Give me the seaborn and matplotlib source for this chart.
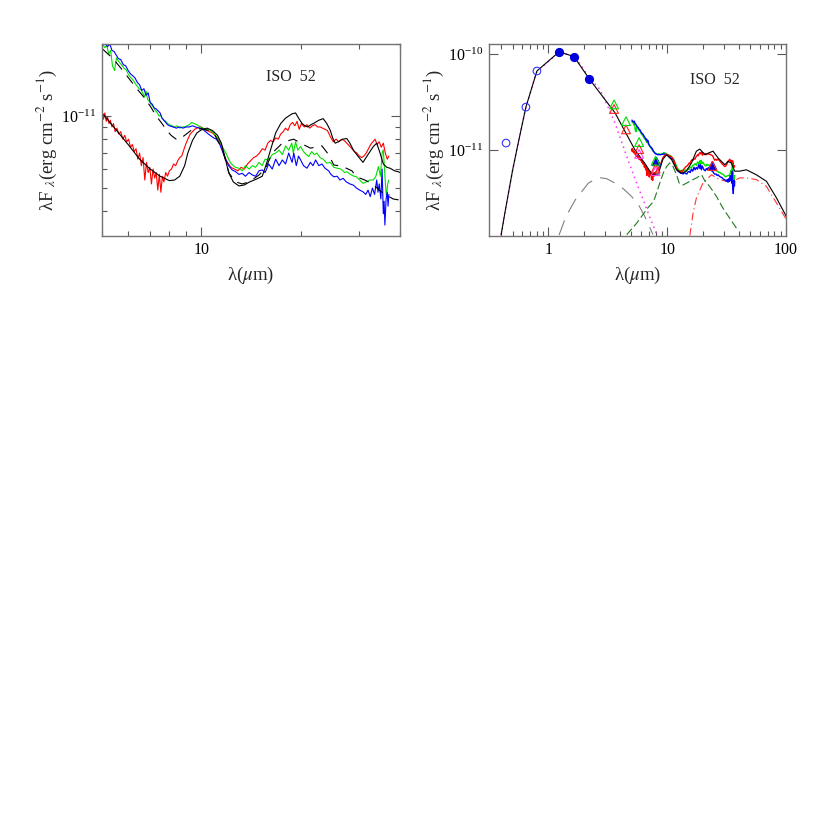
import numpy as np
import pandas as pd
import matplotlib
matplotlib.use("Agg")
import matplotlib.pyplot as plt
import matplotlib.ticker as mticker
import seaborn as sns

UNIT = 1e-11  # fluxes below are in units of 1e-11 erg cm^-2 s^-1

# ---------------- observed IRS-like spectra (shared by both panels) ----------
red_wl = [5.00, 5.05, 5.10, 5.15, 5.20, 5.25, 5.30, 5.36, 5.42, 5.48, 5.55, 5.62, 5.70, 5.78,
          5.86, 5.94, 6.02, 6.10, 6.18, 6.26, 6.34, 6.42, 6.50, 6.58, 6.66, 6.74, 6.82, 6.90,
          6.98, 7.06, 7.14, 7.22, 7.30, 7.38, 7.46, 7.54, 7.62, 7.70, 7.80, 7.90, 8.00, 8.12,
          8.24, 8.36, 8.48, 8.60, 8.72, 8.84, 8.96, 9.10, 9.25, 9.40, 9.55, 9.70, 9.86, 10.0,
          10.2, 10.4, 10.6, 10.8, 11.0, 11.2, 11.4, 11.6, 11.8, 12.0, 12.3, 12.6, 12.9, 13.2,
          13.5, 13.8, 14.1, 14.4, 14.7, 15.0, 15.3, 15.6, 15.9, 16.2, 16.5, 16.8, 17.1, 17.4,
          17.7, 18.0, 18.3, 18.6, 18.9, 19.2, 19.5, 19.8, 20.1, 20.5, 20.9, 21.3, 21.7, 22.1,
          22.5, 22.9, 23.3, 23.7, 24.1, 24.6, 25.1, 25.6, 26.1, 26.6, 27.1, 27.6, 28.1, 28.6,
          29.1, 29.6, 30.1, 30.6, 31.1, 31.6, 32.1, 32.6, 33.1, 33.6, 34.1, 34.6, 35.1, 35.6,
          36.1, 36.6, 37.0]
red_flux = [1.02, 0.97, 1.03, 0.95, 0.99, 0.93, 0.96, 0.90, 0.93, 0.86, 0.89, 0.84, 0.86, 0.80,
            0.83, 0.78, 0.80, 0.74, 0.76, 0.71, 0.73, 0.66, 0.70, 0.62, 0.67, 0.54, 0.64, 0.58,
            0.61, 0.52, 0.60, 0.55, 0.58, 0.49, 0.57, 0.48, 0.56, 0.53, 0.58, 0.56, 0.59, 0.60,
            0.63, 0.62, 0.65, 0.67, 0.68, 0.72, 0.76, 0.80, 0.84, 0.86, 0.88, 0.89, 0.90, 0.90,
            0.88, 0.87, 0.86, 0.85, 0.83, 0.81, 0.77, 0.72, 0.67, 0.64, 0.61, 0.60, 0.59, 0.61,
            0.60, 0.63, 0.65, 0.67, 0.68, 0.70, 0.73, 0.72, 0.77, 0.79, 0.78, 0.81, 0.80, 0.84,
            0.86, 0.89, 0.87, 0.92, 0.94, 0.91, 0.95, 0.88, 0.93, 0.90, 0.92, 0.89, 0.91, 0.92,
            0.90, 0.90, 0.89, 0.88, 0.87, 0.82, 0.78, 0.80, 0.78, 0.80, 0.79, 0.77, 0.75, 0.73,
            0.71, 0.70, 0.68, 0.67, 0.68, 0.70, 0.73, 0.76, 0.78, 0.80, 0.76, 0.78, 0.74, 0.77,
            0.70, 0.66, 0.68]

green_wl = [5.03, 5.10, 5.17, 5.24, 5.31, 5.38, 5.46, 5.53, 5.60, 5.68, 5.76, 5.84, 5.92, 6.00,
            6.08, 6.16, 6.24, 6.32, 6.40, 6.48, 6.56, 6.64, 6.72, 6.80, 6.88, 6.96, 7.04, 7.12,
            7.20, 7.28, 7.36, 7.44, 7.52, 7.60, 7.70, 7.80, 7.90, 8.00, 8.15, 8.30, 8.45, 8.60,
            8.75, 8.90, 9.05, 9.20, 9.35, 9.50, 9.70, 9.90, 10.1, 10.3, 10.6, 10.9, 11.1, 11.33,
            11.6, 11.87, 12.1, 12.28, 12.5, 12.7, 13.0, 13.3, 13.6, 13.95, 14.3, 14.6, 14.96, 15.3,
            15.6, 16.03, 16.4, 16.8, 17.2, 17.6, 18.0, 18.4, 18.8, 19.0, 19.3, 19.6, 20.0, 20.4,
            20.8, 21.15, 21.6, 22.0, 22.4, 22.9, 23.4, 24.0, 24.6, 25.2, 25.8, 26.5, 27.2, 27.6,
            28.3, 29.0, 29.5, 30.2, 30.9, 31.6, 32.4, 33.2, 33.8, 34.4, 34.9, 35.3, 35.6, 35.9,
            36.2, 36.4, 36.7, 37.0]
green_flux = [1.99, 1.93, 1.97, 1.82, 1.88, 1.62, 1.55, 1.75, 1.70, 1.66, 1.62, 1.58, 1.56, 1.50,
              1.46, 1.43, 1.40, 1.36, 1.33, 1.30, 1.29, 1.25, 1.20, 1.27, 1.17, 1.15, 1.12, 1.10,
              1.07, 1.05, 1.03, 1.00, 1.01, 0.98, 0.96, 0.95, 0.93, 0.92, 0.91, 0.90, 0.91, 0.89,
              0.90, 0.90, 0.91, 0.92, 0.94, 0.93, 0.92, 0.90, 0.89, 0.88, 0.875, 0.85, 0.82, 0.795,
              0.74, 0.70, 0.66, 0.635, 0.62, 0.61, 0.605, 0.59, 0.62, 0.60, 0.62, 0.61, 0.64, 0.62,
              0.66, 0.655, 0.69, 0.70, 0.72, 0.69, 0.75, 0.72, 0.77, 0.70, 0.78, 0.72, 0.745, 0.71,
              0.69, 0.677, 0.71, 0.69, 0.70, 0.67, 0.66, 0.635, 0.64, 0.61, 0.605, 0.60, 0.58, 0.585,
              0.57, 0.56, 0.557, 0.54, 0.523, 0.53, 0.54, 0.54, 0.56, 0.614, 0.56, 0.70, 0.722, 0.60,
              0.50, 0.46, 0.52, 0.54]

blue_wl = [5.05, 5.12, 5.20, 5.28, 5.36, 5.44, 5.52, 5.60, 5.70, 5.80, 5.90, 6.00, 6.10, 6.21,
           6.30, 6.40, 6.50, 6.60, 6.70, 6.80, 6.90, 7.00, 7.10, 7.20, 7.30, 7.40, 7.50, 7.60,
           7.70, 7.80, 7.90, 8.00, 8.20, 8.40, 8.60, 8.80, 9.00, 9.20, 9.40, 9.60, 9.86, 10.1,
           10.3, 10.57, 10.9, 11.1, 11.33, 11.6, 11.87, 12.1, 12.4, 12.7, 13.0, 13.3, 13.6, 13.95,
           14.28, 14.6, 14.96, 15.3, 15.6, 16.0, 16.4, 16.8, 17.2, 17.6, 18.0, 18.4, 18.84, 19.06,
           19.4, 19.7, 20.0, 20.4, 20.9, 21.4, 21.8, 22.2, 22.7, 23.2, 23.7, 24.3, 24.7, 25.2,
           25.8, 26.3, 26.9, 27.5, 28.2, 28.9, 29.5, 30.2, 30.9, 31.5, 32.0, 32.5, 33.0, 33.5,
           34.0, 34.3, 34.6, 35.0, 35.3, 35.6, 35.8, 36.0, 36.3, 36.6, 36.8, 37.0]
blue_flux = [2.05, 2.00, 1.95, 2.00, 1.88, 1.86, 1.80, 1.74, 1.72, 1.64, 1.62, 1.55, 1.50, 1.47,
             1.44, 1.38, 1.35, 1.28, 1.30, 1.22, 1.25, 1.14, 1.12, 1.08, 1.07, 1.05, 1.03, 0.98,
             0.96, 0.94, 0.92, 0.91, 0.90, 0.89, 0.90, 0.89, 0.90, 0.90, 0.91, 0.90, 0.89, 0.88,
             0.86, 0.835, 0.81, 0.80, 0.77, 0.71, 0.655, 0.62, 0.595, 0.585, 0.57, 0.576, 0.56, 0.58,
             0.567, 0.56, 0.59, 0.595, 0.58, 0.63, 0.60, 0.66, 0.62, 0.655, 0.63, 0.70, 0.64, 0.70,
             0.62, 0.68, 0.655, 0.62, 0.605, 0.64, 0.62, 0.655, 0.62, 0.63, 0.605, 0.59, 0.57, 0.557,
             0.56, 0.54, 0.549, 0.53, 0.52, 0.514, 0.50, 0.49, 0.482, 0.47, 0.49, 0.46, 0.50, 0.47,
             0.54, 0.48, 0.52, 0.45, 0.60, 0.39, 0.44, 0.35, 0.45, 0.48, 0.42, 0.47]

# ---------------- left panel models ----------------
model_solid_wl = [5.0, 5.5, 6.0, 6.5, 7.0, 7.5, 8.0, 8.3, 8.6, 8.9, 9.1, 9.4, 9.7, 10.0, 10.4,
                  10.8, 11.2, 11.5, 11.8, 12.1, 12.5, 13.0, 13.5, 14.0, 14.7, 15.3, 15.8, 16.2,
                  16.8, 17.4, 18.0, 18.8, 19.3, 19.8, 20.2, 20.6, 21.0, 21.5, 22.0, 22.7, 23.4,
                  24.0, 24.6, 25.0, 25.45, 26.0, 26.8, 27.6, 28.2, 28.9, 29.8, 30.9, 32.0, 33.2,
                  34.0, 34.8, 35.6, 36.5, 37.3, 38.5, 39.5, 40.0]
model_solid_flux = [1.03, 0.88, 0.76, 0.66, 0.60, 0.56, 0.537, 0.54, 0.56, 0.62, 0.70, 0.79, 0.85,
                    0.875, 0.89, 0.87, 0.83, 0.77, 0.67, 0.58, 0.53, 0.51, 0.515, 0.53, 0.545, 0.56,
                    0.64, 0.72, 0.85, 0.93, 0.98, 1.02, 1.03, 0.97, 0.93, 0.91, 0.90, 0.92, 0.935,
                    0.96, 0.975, 0.93, 0.87, 0.81, 0.77, 0.78, 0.80, 0.805, 0.77, 0.72, 0.68, 0.64,
                    0.69, 0.745, 0.77, 0.70, 0.63, 0.61, 0.605, 0.59, 0.585, 0.58]

model_dash_wl = [5.03, 5.3, 5.53, 5.8, 6.07, 6.35, 6.66, 7.0, 7.3, 7.6, 7.83, 8.1, 8.39, 8.6, 8.9,
                 9.3, 9.7, 10.0, 10.5, 11.0, 11.6, 12.14, 12.72, 13.3, 13.95, 14.96, 15.67, 16.4,
                 17.6, 18.4, 19.06, 20.0, 21.4, 23.2, 24.3, 25.2, 26.6, 28.6, 29.5, 31.3, 33.0,
                 35.1, 38.1, 40.0]
model_dash_flux = [1.90, 1.78, 1.67, 1.54, 1.42, 1.31, 1.21, 1.10, 1.00, 0.93, 0.876, 0.83, 0.80,
                   0.80, 0.83, 0.87, 0.88, 0.885, 0.87, 0.83, 0.72, 0.576, 0.53, 0.52, 0.53, 0.567,
                   0.605, 0.70, 0.77, 0.79, 0.80, 0.77, 0.734, 0.75, 0.69, 0.624, 0.618, 0.59,
                   0.557, 0.54, 0.52, 0.482, 0.45, 0.445]

# ---------------- right panel: photometry ----------------
open_circ_wl = [0.44, 0.646, 0.80]
open_circ_flux = [1.18, 2.80, 6.68]
fill_circ_wl = [1.23, 1.64, 2.20]
fill_circ_flux = [10.6, 9.46, 5.56]
tri_green_wl = [3.57, 4.50, 5.80, 7.98]
tri_green_flux = [2.99, 2.00, 1.21, 0.77]
tri_red_wl = [3.57, 4.50, 5.80, 7.98, 24.0]
tri_red_flux = [2.68, 1.64, 1.02, 0.64, 0.68]
tri_mag_wl = [5.80, 7.98]
tri_mag_flux = [0.91, 0.60]
tri_blue_wl = [7.98, 24.0]
tri_blue_flux = [0.76, 0.70]

# ---------------- right panel: models ----------------
total_wl = [0.40, 0.43, 0.46, 0.50, 0.55, 0.646, 0.80, 1.23, 1.64, 2.20, 3.63, 5.35, 6.5, 7.4,
            8.4, 9.2, 9.88, 10.9, 12.0, 13.2, 14.5, 16.0, 17.6, 18.8, 20.8, 22.8, 24.3, 26.9,
            30.6, 32.5, 34.6, 37.0, 40.7, 46.4, 56.3, 68.5, 83.3, 101.0]
total_flux = [0.13, 0.22, 0.35, 0.62, 1.10, 2.80, 6.68, 10.6, 9.46, 5.56, 2.45, 1.00, 0.72, 0.56,
              0.56, 0.80, 0.89, 0.79, 0.62, 0.57, 0.60, 0.73, 0.97, 1.02, 0.89, 0.94, 0.97, 0.82,
              0.70, 0.76, 0.73, 0.60, 0.60, 0.62, 0.55, 0.47, 0.314, 0.20]

photo_wl = [0.40, 0.43, 0.46, 0.50, 0.55, 0.646, 0.80, 1.23, 1.45, 1.64, 1.85, 2.20, 2.72, 3.10,
            3.63, 4.56, 5.53, 6.29, 7.00, 8.40, 8.80]
photo_flux = [0.13, 0.22, 0.35, 0.62, 1.10, 2.80, 6.68, 10.4, 10.0, 9.3, 7.9, 5.7, 4.29, 3.0,
              1.92, 0.857, 0.45, 0.30, 0.21, 0.12, 0.10]

hot_wl = [1.23, 1.40, 1.68, 2.17, 2.63, 3.10, 3.63, 4.30, 5.02, 5.80, 6.50, 7.60]
hot_flux = [0.129, 0.20, 0.30, 0.45, 0.516, 0.50, 0.45, 0.39, 0.326, 0.26, 0.20, 0.13]

disk_wl = [4.56, 5.5, 6.4, 6.9, 7.5, 7.86, 8.66, 9.3, 9.88, 10.5, 11.2, 12.0, 12.6, 13.6, 15.5,
           17.6, 19.5, 20.8, 22.8, 26.0, 29.5, 33.6, 38.3]
disk_flux = [0.13, 0.17, 0.22, 0.25, 0.28, 0.314, 0.45, 0.58, 0.67, 0.73, 0.67, 0.55, 0.45, 0.43,
             0.47, 0.51, 0.55, 0.47, 0.415, 0.326, 0.246, 0.193, 0.152]

env_wl = [15.5, 16.5, 17.6, 18.8, 20.0, 22.1, 23.6, 27.6, 31.5, 35.9, 40.7, 46.4, 56.3, 68.5,
          83.3, 101.0]
env_flux = [0.127, 0.218, 0.314, 0.38, 0.45, 0.51, 0.55, 0.49, 0.47, 0.47, 0.51, 0.51, 0.49,
            0.415, 0.278, 0.186]

# tick values shown on the axes
left_xticks = [10]
left_yticks = [1e-11]
right_xticks = [1, 10, 100]
right_yticks = [1e-11, 1e-10]

# ---------------- style ----------------
sns.set_theme(style="ticks")
plt.rcParams["font.family"] = ["Liberation Serif", "DejaVu Serif"]
plt.rcParams["mathtext.fontset"] = "stix"
plt.rcParams["axes.edgecolor"] = "0.45"
plt.rcParams["axes.linewidth"] = 1.0

fig = plt.figure(figsize=(8.3, 8.3), dpi=100)
axL = fig.add_axes([102 / 830, 1 - 236 / 830, 298 / 830, 192 / 830])
axR = fig.add_axes([489 / 830, 1 - 236 / 830, 297 / 830, 192 / 830])

for ax in (axL, axR):
    ax.set_xscale("log")
    ax.set_yscale("log")


def line(ax, wl, fl, color, lw=0.8, **kw):
    df = pd.DataFrame({"wl": wl, "f": np.asarray(fl) * UNIT})
    sns.lineplot(data=df, x="wl", y="f", ax=ax, sort=False, estimator=None,
                 color=color, lw=lw, **kw)


def pts(ax, wl, fl, marker, s, fc, ec, lw=0.8):
    df = pd.DataFrame({"wl": wl, "f": np.asarray(fl) * UNIT})
    sns.scatterplot(data=df, x="wl", y="f", ax=ax, marker=marker, s=s,
                    facecolor=fc, edgecolor=ec, linewidth=lw, zorder=5)


# ---- left panel ----
line(axL, red_wl, red_flux, "#ff0000")
line(axL, green_wl, green_flux, "#00e000")
line(axL, blue_wl, blue_flux, "#0000ff")
line(axL, model_solid_wl, model_solid_flux, "black")
line(axL, model_dash_wl, model_dash_flux, "black", linestyle=(0, (9, 7)))

# ---- right panel ----
line(axR, photo_wl, photo_flux, "#ff33ff", lw=1.1, linestyle=(0, (1, 2.5)))
line(axR, hot_wl, hot_flux, "0.5", linestyle=(0, (14, 8)))
line(axR, disk_wl, disk_flux, "#1f7a1f", linestyle=(0, (7, 3)))
line(axR, env_wl, env_flux, "#ff3333", linestyle=(0, (7, 3, 1, 3)))
line(axR, green_wl, green_flux, "#00e000", lw=1.0)
line(axR, blue_wl, blue_flux, "#0000ff", lw=1.0)
line(axR, red_wl, red_flux, "#ff0000", lw=1.0)
line(axR, total_wl, total_flux, "black")

pts(axR, open_circ_wl, open_circ_flux, "o", 30, "none", "#3333ff")
pts(axR, fill_circ_wl, fill_circ_flux, "o", 34, "#0000dd", "#0000dd")
pts(axR, tri_blue_wl, tri_blue_flux, "^", 36, "#0000dd", "#0000dd")
pts(axR, tri_mag_wl, tri_mag_flux, "^", 40, "none", "#ff44ff")
pts(axR, tri_red_wl, tri_red_flux, "^", 40, "none", "#ff2222")
pts(axR, tri_green_wl, tri_green_flux, "^", 40, "none", "#00dd00")

# ---- axes cosmetics ----
axL.set_xlim(5, 40)
axL.set_ylim(3.15e-12, 2.0e-11)
axR.set_xlim(0.316, 100)
axR.set_ylim(1.26e-12, 1.28e-10)

fmt_plain = mticker.FuncFormatter(lambda v, _: f"{v:g}")
for ax, xt, yt in ((axL, left_xticks, left_yticks), (axR, right_xticks, right_yticks)):
    ax.xaxis.set_major_locator(mticker.FixedLocator(xt))
    ax.xaxis.set_major_formatter(fmt_plain)
    ax.xaxis.set_minor_locator(mticker.LogLocator(base=10, subs=np.arange(2, 10), numticks=20))
    ax.xaxis.set_minor_formatter(mticker.NullFormatter())
    ax.yaxis.set_major_locator(mticker.FixedLocator(yt))
    ax.yaxis.set_major_formatter(mticker.LogFormatterSciNotation())
    ax.yaxis.set_minor_formatter(mticker.NullFormatter())
    ax.tick_params(which="both", direction="in", top=True, right=True,
                   color="0.35", labelsize=11.5, labelcolor="black", width=0.8)
    ax.tick_params(which="major", length=6.5, pad=4)
    ax.tick_params(which="minor", length=3.6)
    ax.tick_params(axis="y", which="major", pad=4)
    ax.set_xlabel(r"λ($\mu$m)", fontsize=13.5, labelpad=5)
    ax.set_ylabel(r"λF $_{λ}$(erg cm$^{-2}$ s$^{-1}$)", fontsize=13.5, labelpad=2)

axL.yaxis.set_minor_locator(mticker.LogLocator(base=10, subs=np.arange(2, 10), numticks=20))
axR.yaxis.set_minor_locator(mticker.NullLocator())

axL.text(0.634, 0.828, "ISO  52", transform=axL.transAxes, ha="center", va="center", fontsize=11.5)
axR.text(0.761, 0.8125, "ISO  52", transform=axR.transAxes, ha="center", va="center", fontsize=11.5)

fig.savefig("out.png", dpi=100)
